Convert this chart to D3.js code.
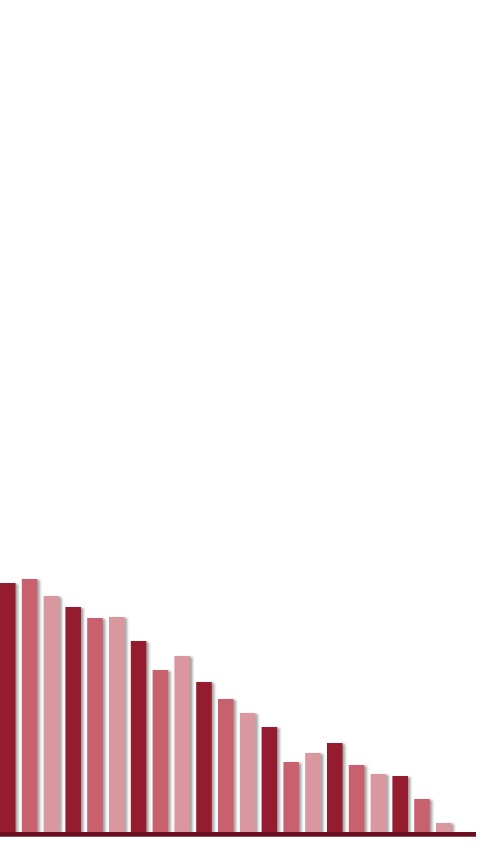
<!DOCTYPE html>
<html>
<head>
<meta charset="utf-8">
<script src="https://cdn.jsdelivr.net/npm/d3@7"></script>
<style>
html,body{margin:0;padding:0;background:#fff;}
svg{display:block;}
</style>
</head>
<body>
<svg id="chart" width="480" height="853"></svg>
<script>
const categories = ["1","2","3","4","5","6","7","8","9","10","11","12","13","14","15","16","17","18","19","20","21","22"];
const values = [249, 253, 236, 225, 214, 215, 191, 162, 176, 150, 133, 119, 105, 70, 79, 89, 67, 58, 56, 33, 9, 0];
const palette = ["#951a2d", "#c8606e", "#d9979f"];

const svg = d3.select("#chart");
const baseY = 832;
const x = d3.scaleBand().domain(categories).range([0, 473.4]).paddingInner(0.285).paddingOuter(0);
const y = d3.scaleLinear().domain([0, 832]).range([baseY, 0]);

const defs = svg.append("defs");
const f = defs.append("filter").attr("id","sh").attr("x","-20%").attr("y","-5%").attr("width","160%").attr("height","115%");
f.append("feDropShadow").attr("dx",2.5).attr("dy",1).attr("stdDeviation",1).attr("flood-color","#555").attr("flood-opacity",0.55);

svg.append("g").selectAll("rect").data(values.map((v,i)=>({c:categories[i],v,i})).filter(d=>d.v>0))
  .join("rect")
  .attr("x", d => x(d.c))
  .attr("y", d => y(d.v))
  .attr("width", x.bandwidth())
  .attr("height", d => baseY - y(d.v))
  .attr("fill", d => palette[d.i % 3])
  .attr("filter","url(#sh)");

svg.append("line")
  .attr("x1", 0).attr("x2", 476)
  .attr("y1", baseY + 2.3).attr("y2", baseY + 2.3)
  .attr("stroke", "#6b1020").attr("stroke-width", 4.8);
</script>
</body>
</html>
